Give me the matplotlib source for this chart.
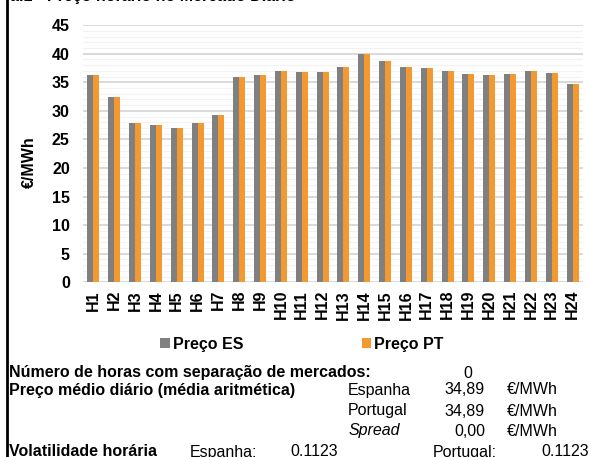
import numpy as np
import matplotlib
matplotlib.use('Agg')
import matplotlib.pyplot as plt
from matplotlib.ticker import MultipleLocator

plt.rcParams['font.family'] = ['Liberation Sans', 'DejaVu Sans']

# Datos del gráfico: precio horario en España y Portugal (€/MWh)
horas = ['H' + str(i) for i in range(1, 25)]
preco_es = [36.2, 32.4, 27.8, 27.5, 27.0, 27.8, 29.2, 36.0, 36.2, 37.0, 36.8, 36.8,
            37.6, 40.0, 38.8, 37.6, 37.5, 37.0, 36.5, 36.3, 36.5, 37.0, 36.7, 34.7]
preco_pt = [36.2, 32.4, 27.8, 27.5, 27.0, 27.8, 29.2, 36.0, 36.2, 37.0, 36.8, 36.8,
            37.6, 40.0, 38.8, 37.6, 37.5, 37.0, 36.5, 36.3, 36.5, 37.0, 36.7, 34.7]

FS = 11.5  # tamaño de letra general
W, H = 589, 457
fig = plt.figure(figsize=(W / 100, H / 100), dpi=100)
ax = fig.add_axes([83 / W, 1 - 282.3 / H, 500 / W, 257.2 / H])

x = np.arange(len(horas))
ancho = 0.29
ax.bar(x - ancho / 2, preco_es, ancho, color='#808080', label='Preço ES', zorder=3)
ax.bar(x + ancho / 2, preco_pt, ancho, color='#F4992F', label='Preço PT', zorder=3)

# Ejes y rejilla
ax.set_xlim(-0.5, len(horas) - 0.5)
ax.set_ylim(0, 45)
ax.yaxis.set_major_locator(MultipleLocator(5))
ax.yaxis.set_minor_locator(MultipleLocator(1))
ax.grid(axis='y', which='major', color='#d3d3d3', linewidth=1.2, zorder=0)
ax.grid(axis='y', which='minor', color='#f2f2f2', linewidth=0.8, zorder=0)
for s in ax.spines.values():
    s.set_visible(False)
ax.tick_params(axis='both', which='both', length=0)
ax.tick_params(axis='y', pad=9.5)
ax.tick_params(axis='x', pad=5.5)
ax.set_xticks(x)
ax.set_xticklabels(horas, rotation=90, fontsize=FS, fontweight='bold')
for t in ax.get_yticklabels():
    t.set_fontsize(FS)
    t.set_fontweight('bold')
ax.set_ylabel('€/MWh', fontsize=FS, fontweight='bold')
ax.yaxis.set_label_coords((37 - 83) / 500, (282.3 - 162) / 257.2)

# Leyenda
fig.legend(loc='center', bbox_to_anchor=(302 / W, 1 - 344 / H), ncol=2, frameon=False,
           prop={'size': FS, 'weight': 'bold'}, handlelength=0.6, handleheight=0.6,
           handletextpad=0.2, columnspacing=7.4)

# Titulo (cortado arriba) y borde izquierdo
fig.text(10 / W, 1 - 1 / H, 'a.1 - Preço horário no Mercado Diário', fontsize=FS,
         fontweight='bold', va='baseline', ha='left')
fig.add_artist(plt.Line2D([7 / W, 7 / W], [0, 1], color='black', linewidth=2,
                          transform=fig.transFigure))

# Texto inferior
def txt(px, py, s, **kw):
    fig.text(px / W, 1 - py / H, s, fontsize=FS, va='center', **kw)

txt(9, 373, 'Número de horas com separação de mercados:', fontweight='bold')
txt(468, 373, '0', ha='center')
txt(9, 390, 'Preço médio diário (média aritmética)', fontweight='bold')
txt(348, 390, 'Espanha')
txt(485, 390, '34,89', ha='right')
txt(507, 390, '€/MWh')
txt(348, 411, 'Portugal')
txt(485, 411, '34,89', ha='right')
txt(507, 411, '€/MWh')
txt(349, 431, 'Spread', style='italic')
txt(485, 431, '0,00', ha='right')
txt(507, 431, '€/MWh')
txt(9, 452, 'Volatilidade horária', fontweight='bold')
txt(190, 452, 'Espanha:')
txt(338, 452, '0.1123', ha='right')
txt(433, 452, 'Portugal:')
txt(589, 452, '0.1123', ha='right')

fig.savefig('out.png', dpi=100)
